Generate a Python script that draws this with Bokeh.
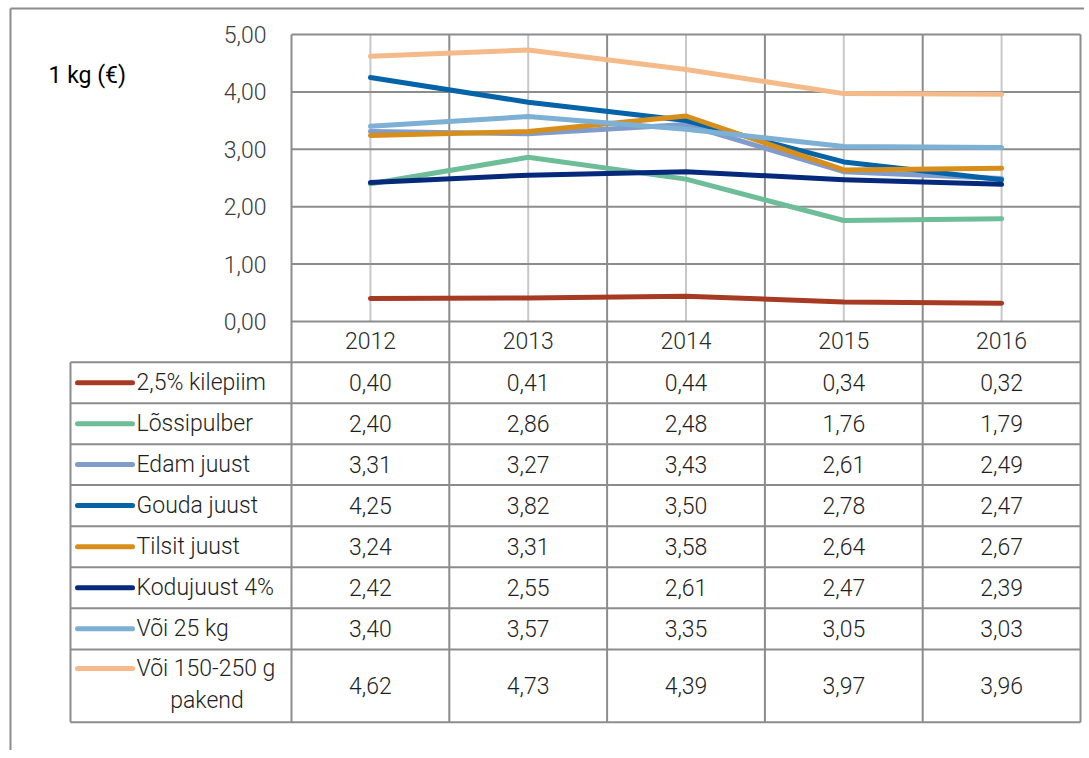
from bokeh.plotting import figure
from bokeh.models import Range1d, ColumnDataSource
from bokeh.core.properties import value
from bokeh.embed import file_html
from bokeh.resources import INLINE

# ---------------- data ----------------
years = [2012, 2013, 2014, 2015, 2016]
year_labels = ["2012", "2013", "2014", "2015", "2016"]
y_ticks = [0, 1, 2, 3, 4, 5]
y_title = "1 kg (€)"

series_names = ["2,5% kilepiim", "Lõssipulber", "Edam juust", "Gouda juust",
                "Tilsit juust", "Kodujuust 4%", "Või 25 kg", "Või 150-250 g pakend"]
kilepiim = [0.40, 0.41, 0.44, 0.34, 0.32]
lossipulber = [2.40, 2.86, 2.48, 1.76, 1.79]
edam = [3.31, 3.27, 3.43, 2.61, 2.49]
gouda = [4.25, 3.82, 3.50, 2.78, 2.47]
tilsit = [3.24, 3.31, 3.58, 2.64, 2.67]
kodujuust = [2.42, 2.55, 2.61, 2.47, 2.39]
voi25 = [3.40, 3.57, 3.35, 3.05, 3.03]
voi_pakend = [4.62, 4.73, 4.39, 3.97, 3.96]
series_values = [kilepiim, lossipulber, edam, gouda, tilsit, kodujuust, voi25, voi_pakend]
colors = ["#a63a23", "#6dbd98", "#7f9ccc", "#0563a8", "#d88e1b", "#06297c", "#7cb0d4", "#f4ba89"]

# ---------------- layout (screenshot pixels) ----------------
W, H = 1084, 750
CANVAS_L, CANVAS_T = 0, 0
PLOT_L, PLOT_R, PLOT_T, PLOT_B = 291, 1080, 34, 321
YMAX = y_ticks[-1]
N = len(years)
ROW_EDGES = [361.7, 402.7, 443.7, 484.5, 525.7, 566.7, 607.7, 649.0, 721.7]
TABLE_L = 70
FONT = value("Roboto Light")
GRID = "#8c8c8c"


def X(px):
    return years[0] - 0.5 + (px - PLOT_L) * N / (PLOT_R - PLOT_L)


def Y(py):
    return (PLOT_B - py) * YMAX / (PLOT_B - PLOT_T)


def fmt(v):
    return f"{v:.2f}".replace(".", ",")


p = figure(width=W, height=H,
           x_range=Range1d(X(CANVAS_L), X(CANVAS_L + W)),
           y_range=Range1d(Y(CANVAS_T + H), Y(CANVAS_T)),
           x_axis_type=None, y_axis_type=None,
           output_backend="svg", toolbar_location=None, min_border=0)
p.outline_line_color = None
p.background_fill_color = "white"
p.border_fill_color = "white"

x_lo = years[0] - 0.5
x_hi = years[-1] + 0.5

# outer chart border (top and left)
p.segment(x0=[X(10), X(10)], y0=[Y(8), Y(8)], x1=[X(CANVAS_L + W), X(10)], y1=[Y(8), Y(CANVAS_T + H)],
          line_color=GRID, line_width=2)

# light vertical lines at category centres
p.segment(x0=years, y0=[0] * N, x1=years, y1=[YMAX] * N, line_color="#c8c8c8", line_width=2)

# horizontal gridlines
p.segment(x0=[x_lo] * len(y_ticks), y0=y_ticks, x1=[x_hi] * len(y_ticks), y1=y_ticks,
          line_color=GRID, line_width=2)

# category boundary lines through plot and table
bounds = [y - 0.5 for y in years] + [x_hi]
p.segment(x0=bounds, y0=[YMAX] * len(bounds), x1=bounds, y1=[Y(ROW_EDGES[-1])] * len(bounds),
          line_color=GRID, line_width=2)

# table horizontal lines and left border
p.segment(x0=[X(TABLE_L)] * len(ROW_EDGES), y0=[Y(r) for r in ROW_EDGES],
          x1=[x_hi] * len(ROW_EDGES), y1=[Y(r) for r in ROW_EDGES], line_color=GRID, line_width=2)
p.segment(x0=[X(TABLE_L)], y0=[Y(ROW_EDGES[0])], x1=[X(TABLE_L)], y1=[Y(ROW_EDGES[-1])],
          line_color=GRID, line_width=2)

# series lines
for vals, col in zip(series_values, colors):
    p.line(x=years, y=vals, line_color=col, line_width=5, line_cap="round", line_join="round")

# y tick labels
p.text(x=[X(266)] * len(y_ticks), y=y_ticks, text=[fmt(t) for t in y_ticks],
       text_align="right", text_baseline="middle", text_font=FONT, text_font_size="23px",
       text_color="#3a3a3a")

# y title
p.text(x=[X(48)], y=[Y(75)], text=[y_title], text_align="left", text_baseline="middle",
       text_font=value("Roboto"), text_font_size="23px", text_color="#000000")

# year labels
p.text(x=years, y=[Y(340)] * N, text=year_labels, text_align="center", text_baseline="middle",
       text_font=FONT, text_font_size="23px", text_color="#2a2a2a")

# table rows
row_centres = []
for i, name in enumerate(series_names):
    top, bot = ROW_EDGES[i], ROW_EDGES[i + 1]
    row_centres.append((top + bot) / 2)

cx, cy, ct = [], [], []
for i, vals in enumerate(series_values):
    for yr, v in zip(years, vals):
        cx.append(yr)
        cy.append(Y(row_centres[i]))
        ct.append(fmt(v))
p.text(x=cx, y=cy, text=ct, text_align="center", text_baseline="middle",
       text_font=FONT, text_font_size="23px", text_color="#1e1e1e")

# legend swatches and labels
sw_y, lx, ly, lt, la = [], [], [], [], []
for i, name in enumerate(series_names):
    top, bot = ROW_EDGES[i], ROW_EDGES[i + 1]
    if bot - top > 50:
        first, second = name.rsplit(" ", 1)
        line1 = top + 19
        sw_y.append(Y(line1))
        lx += [X(136), X(206.5)]
        ly += [Y(line1), Y(line1 + 32)]
        lt += [first, second]
        la += ["left", "center"]
    else:
        sw_y.append(Y(row_centres[i]))
        lx.append(X(136))
        ly.append(Y(row_centres[i]))
        lt.append(name)
        la.append("left")

p.segment(x0=[X(77)] * len(sw_y), y0=sw_y, x1=[X(132)] * len(sw_y), y1=sw_y,
          line_color=colors, line_width=5, line_cap="round")
lsrc = ColumnDataSource(dict(x=lx, y=ly, t=lt, a=la))
p.text(x="x", y="y", text="t", text_align="a", source=lsrc, text_baseline="middle",
       text_font=FONT, text_font_size="23px", text_color="#1e1e1e")

open("out.html", "w").write(file_html(p, INLINE))
